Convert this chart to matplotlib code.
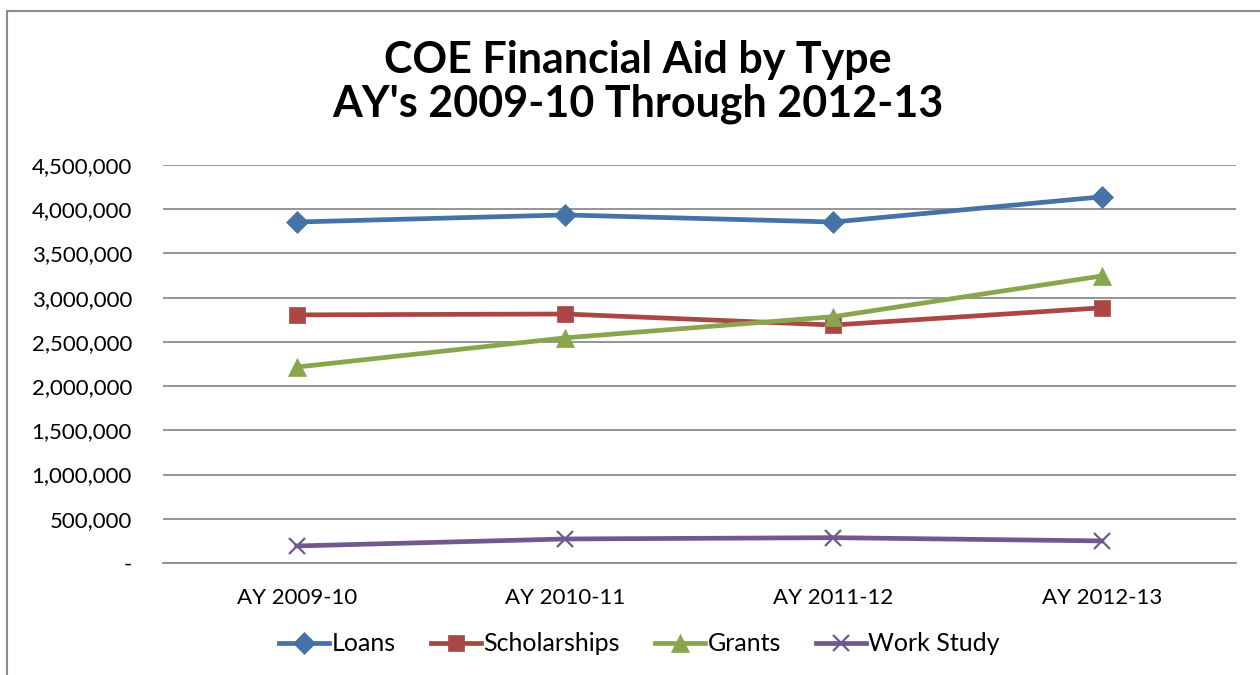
import matplotlib.pyplot as plt
from matplotlib.patches import Rectangle
from matplotlib.ticker import FuncFormatter

years = ["AY 2009-10", "AY 2010-11", "AY 2011-12", "AY 2012-13"]
loans = [3855000, 3935000, 3855000, 4140000]
scholarships = [2805000, 2815000, 2690000, 2885000]
grants = [2215000, 2545000, 2785000, 3245000]
work_study = [192000, 271000, 286000, 249000]

plt.rcParams['font.family'] = ['Lato', 'DejaVu Sans']

fig = plt.figure(figsize=(12.6, 6.75), dpi=100)
ax = fig.add_axes([0.129, 0.166, 0.852, 0.5896])

# outer chart frame (only top and left edges visible)
fig.patches.append(Rectangle((7 / 1260, -0.05), 1.1, 1 - 11 / 675 + 0.05,
                             transform=fig.transFigure, fill=False,
                             edgecolor='#8c8c8c', linewidth=1.5))

x = range(len(years))
series = [
    ("Loans", loans, '#4572A7', 'D', 11),
    ("Scholarships", scholarships, '#AA4643', 's', 11),
    ("Grants", grants, '#89A54E', '^', 13),
    ("Work Study", work_study, '#71588F', 'x', 12),
]
for name, vals, col, mk, ms in series:
    ax.plot(x, vals, color=col, linewidth=3.4, marker=mk, markersize=ms,
            markeredgewidth=1.6 if mk == 'x' else 0.5,
            markeredgecolor=col, label=name, zorder=3)

ax.set_xlim(-0.5, 3.5)
ax.set_ylim(0, 4500000)
ax.set_yticks(range(0, 4500001, 500000))
ax.yaxis.set_major_formatter(FuncFormatter(lambda v, p: "-" if v == 0 else f"{int(v):,}"))
ax.set_xticks(list(x))
ax.set_xticklabels(years)
ax.grid(axis='y', color='#8c8c8c', linewidth=1.3)
ax.set_axisbelow(True)
for s in ['top', 'right', 'left']:
    ax.spines[s].set_visible(False)
ax.spines['bottom'].set_color('#8c8c8c')
ax.spines['bottom'].set_linewidth(1.3)
ax.tick_params(axis='y', length=0, labelsize=16, pad=22)
ax.tick_params(axis='x', length=0, labelsize=16, pad=18)

fig.text(0.506, 0.878, "COE Financial Aid by Type\nAY's 2009-10 Through 2012-13",
         ha='center', va='center', fontsize=31, fontweight='bold', linespacing=1.1)

ax.legend(loc='center', bbox_to_anchor=(0.4445, -0.2035), ncol=4, frameon=False,
          fontsize=18, handlelength=2.0, handletextpad=0.1, columnspacing=1.4)

fig.savefig("out.png", dpi=100)
